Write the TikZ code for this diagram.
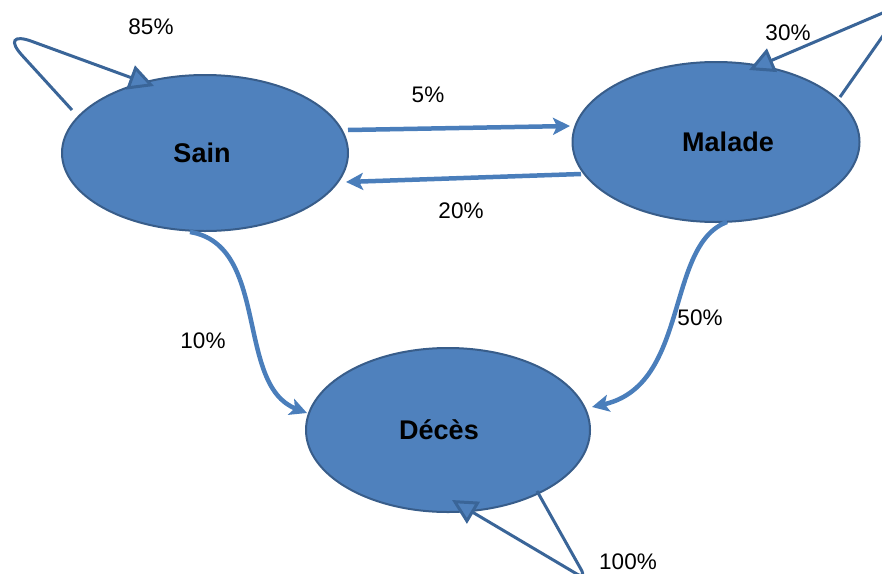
\documentclass[tikz,border=0pt]{standalone}
\usepackage{fontspec}
\setmainfont{Liberation Sans}
\usetikzlibrary{arrows.meta,shapes.geometric}
\definecolor{nodefill}{HTML}{4F81BD}
\definecolor{nodeline}{HTML}{385D8A}
\definecolor{edgecol}{HTML}{4A7EBB}
\definecolor{loopcol}{HTML}{3A6598}
\begin{document}
\begin{tikzpicture}[x=1pt,y=-1pt,
  state/.style={ellipse, fill=nodefill, draw=nodeline, line width=2pt, inner sep=0pt},
  statetext/.style={font=\fontsize{27}{30}\selectfont\bfseries, text height=19.5pt, text depth=0pt, inner sep=0pt},
  lab/.style={font=\fontsize{22.5}{26}\selectfont, text height=16.2pt, text depth=0pt, inner sep=0pt},
  edge/.style={draw=edgecol, line width=4.5pt, -{Stealth[length=17pt,width=17pt,inset=4pt]}},
  loopst/.style={draw=loopcol, line width=3pt, -{Triangle[length=25pt,width=25pt,fill=nodefill]}}]
\useasboundingbox (0,0) rectangle (882,573);
\clip (0,0) rectangle (882,573);

\node[state, minimum width=286pt, minimum height=156pt,
      label={[statetext,xshift=-3pt]center:Sain}] (sain) at (205,153) {};
\node[state, minimum width=287pt, minimum height=160pt,
      label={[statetext,xshift=12pt]center:Malade}] (malade) at (716,142) {};
\node[state, minimum width=284pt, minimum height=164pt,
      label={[statetext,xshift=-9pt]center:Décès}] (deces) at (448,430) {};

% connector end points on the borders
\coordinate (s5) at (348,130);
\coordinate (m5) at (570,126);
\coordinate (m20) at (581,174);
\coordinate (s20) at (346,182);
\coordinate (s10) at (190,232);
\coordinate (d10) at (307,413);
\coordinate (m50) at (727,222);
\coordinate (d50) at (592,407);
\coordinate (sl1) at (72,110);
\coordinate (slc) at (-2,29);
\coordinate (sl2) at (154,86);
\coordinate (ml1) at (840,97);
\coordinate (mlc) at (906,3);
\coordinate (ml2) at (749,70);
\coordinate (dl1) at (537,491);
\coordinate (dlc) at (587,580);
\coordinate (dl2) at (452,500);

\draw[edge] (s5) -- (m5);
\draw[edge] (m20) -- (s20);
\draw[edge] (s10) .. controls (270,245) and (235,385) .. (d10);
\draw[edge] (m50) .. controls (665,245) and (690,385) .. (d50);

\draw[loopst, rounded corners=36pt] (sl1) -- (slc) -- (sl2);
\draw[loopst, rounded corners=25pt] (ml1) -- (mlc) -- (ml2);
\draw[loopst, rounded corners=12pt] (dl1) -- (dlc) -- (dl2);

\node[lab] (l85) at (151,26) {85\%};
\node[lab] (l30) at (788,32) {30\%};
\node[lab] (l100) at (628,561) {100\%};
\node[lab] (l5) at (428,94) {5\%};
\node[lab] (l20) at (461,210) {20\%};
\node[lab] (l10) at (203,340) {10\%};
\node[lab] (l50) at (700,317) {50\%};
\end{tikzpicture}
\end{document}
